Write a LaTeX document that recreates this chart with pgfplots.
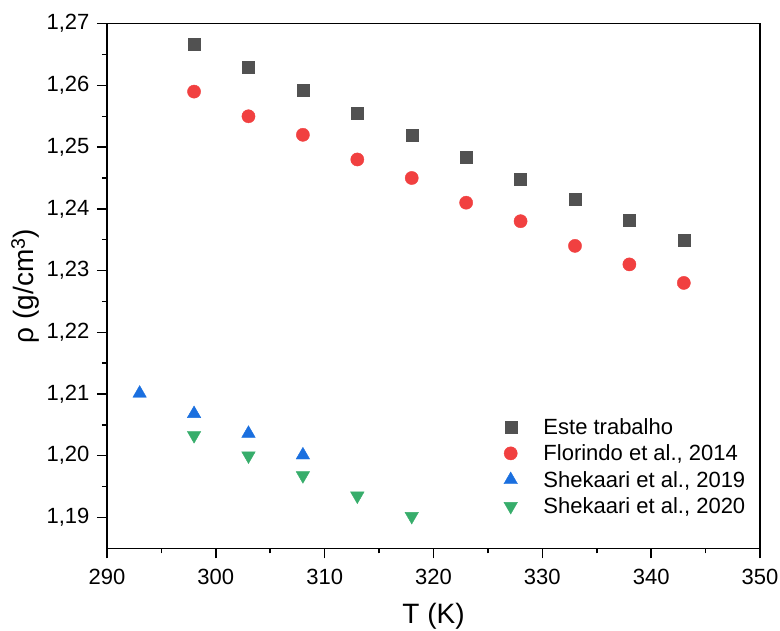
\documentclass[border=0pt]{standalone}
\usepackage{fontspec}
\setmainfont{Liberation Sans}
\usepackage{pgfplots}
\pgfplotsset{compat=1.18}
\definecolor{cgray}{HTML}{515151}
\definecolor{cred}{HTML}{F14040}
\definecolor{cblue}{HTML}{1A6FDF}
\definecolor{cgreen}{HTML}{37AD6B}
\begin{document}
\begin{tikzpicture}
\useasboundingbox (-107pt,-81.7pt) rectangle (673pt,548.3pt);
\begin{axis}[
  at={(0,0)}, anchor=south west,
  scale only axis, width=653pt, height=524.6pt,
  xmin=290, xmax=350, ymin=1.185, ymax=1.27,
  xtick={290,300,...,350},
  ytick={1.19,1.20,...,1.27},
  minor x tick num=1, minor y tick num=1,
  tick align=outside, xtick pos=bottom, ytick pos=left,
  major tick length=10pt, minor tick length=5pt,
  axis line style={line width=1.5pt},
  every tick/.style={black, line width=1.5pt},
  /pgf/number format/assume math mode=true,
  xticklabel style={font=\fontsize{22}{24}\selectfont, yshift=-7pt, /pgf/number format/1000 sep={}},
  yticklabel style={font=\fontsize{22}{24}\selectfont, xshift=-4pt, /pgf/number format/.cd, use comma, fixed, fixed zerofill, precision=2},
  xlabel={T (K)}, ylabel={ρ (g/cm\textsuperscript{3})},
  label style={font=\fontsize{28}{30}\selectfont},
  xlabel style={yshift=-12pt},
  legend style={draw=none, fill=none, at={(0.603,0.256)}, anchor=north west,
    font=\fontsize{22}{25}\selectfont, row sep=5pt, column sep=24pt},
  legend cell align=left,
  only marks,
]
\addplot[mark=square*, mark size=6pt, color=cgray] coordinates {
(298,1.2666) (303,1.2629) (308,1.2592) (313,1.2555) (318,1.2519)
(323,1.2483) (328,1.2448) (333,1.2415) (338,1.2381) (343,1.2349)};
\addlegendentry{Este trabalho}
\addplot[mark=*, mark size=6.6pt, color=cred] coordinates {
(298,1.259) (303,1.255) (308,1.252) (313,1.248) (318,1.245)
(323,1.241) (328,1.238) (333,1.234) (338,1.231) (343,1.228)};
\addlegendentry{Florindo et al., 2014}
\addplot[mark=triangle*, mark size=7.8pt, color=cblue] coordinates {
(293,1.2101) (298,1.2068) (303,1.2036) (308,1.2001)};
\addlegendentry{Shekaari et al., 2019}
\addplot[mark=triangle*, mark size=7.8pt, color=cgreen, mark options={rotate=180}] coordinates {
(298,1.2033) (303,1.2000) (308,1.1968) (313,1.1935) (318,1.1902)};
\addlegendentry{Shekaari et al., 2020}
\end{axis}
\end{tikzpicture}
\end{document}
